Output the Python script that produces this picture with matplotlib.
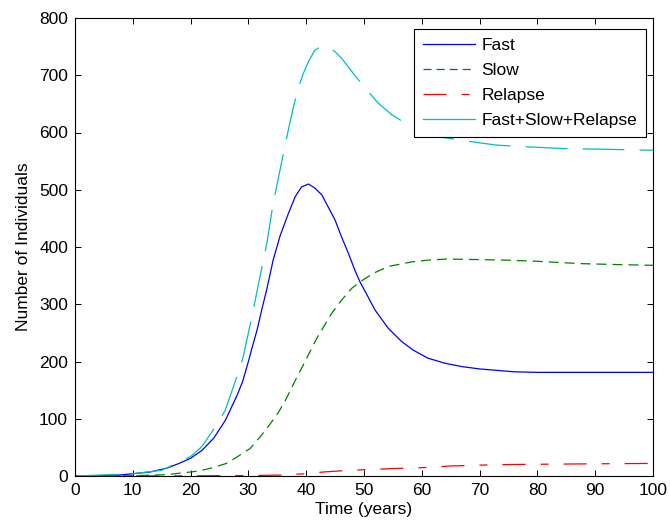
import matplotlib
matplotlib.use("Agg")
import matplotlib.pyplot as plt
from matplotlib.lines import Line2D

plt.rcParams['font.family'] = ['Liberation Sans', 'DejaVu Sans']
plt.rcParams['lines.scale_dashes'] = False

# ---- data ----
t_fast = [0, 5, 8, 10, 13, 16, 18, 20, 22, 24, 26, 28, 29, 30, 30.6, 31.5, 32.3, 33.2,
          34.3, 35.5, 36.9, 38.1, 39.2, 40.4, 41.5, 42.7, 43.8, 45, 46.1, 47.3, 48.4,
          49.3, 50.7, 51.9, 54.2, 56.5, 58.5, 61, 64, 67, 70, 76, 80, 90, 100]
fast = [0, 0.5, 2, 4, 7, 14, 22, 31, 45, 66, 97, 140, 165, 200, 223, 255, 290, 327,
        378, 420, 458, 488, 505, 510, 503, 491, 470, 447, 418, 389, 360,
        339, 313, 290, 258, 235, 220, 206, 197, 191, 187, 182, 181, 181, 181]

t_slow = [0, 10, 15, 16.4, 20, 21.6, 24, 26.2, 28, 30.3, 32, 33.4, 35, 36.3, 38.4, 39.5,
          41.8, 44.4, 46.1, 47.9, 49.3, 51.6, 54.2, 58.3, 61, 64.3, 70, 74.7, 80, 87.4,
          95, 100]
slow = [0, 0.5, 2, 3, 7, 9, 15, 22, 33, 48, 68, 86, 108, 130, 173, 194,
        240, 284, 307, 328, 339, 354, 366, 374, 377, 379, 378, 377, 375, 371,
        369, 368]

t_relapse = [0, 20, 30, 35, 40, 43, 46, 50, 55, 60, 65, 70, 75, 80, 90, 100]
relapse = [0, 0.3, 0.8, 1.5, 4, 7, 9, 11, 13, 14.5, 17.5, 19, 20, 20.5, 21.3, 22]

t_total = [0, 10, 15, 20, 22, 24.5, 26, 28.3, 29.1, 30.6, 32.3, 33.2, 34.3, 35.5, 36.3,
           36.9, 37.8, 38.6, 39.5, 40.4, 41.5, 42.7, 43.8, 45, 46.1, 48.4, 50.5, 52.5,
           54.8, 58, 62, 67.8, 72.9, 78.1, 84.4, 90, 100]
total = [0, 4, 10, 34, 52, 89, 115, 182, 208, 278, 363, 407, 477, 536, 575,
         604, 645, 677, 703, 724, 744, 751, 749, 741, 730, 700, 674, 651,
         631, 611, 594, 585, 578, 575, 572, 571, 569]

labels = ['Fast', 'Slow', 'Relapse', 'Fast+Slow+Relapse']
xticks = list(range(0, 101, 10))
yticks = list(range(0, 801, 100))

# ---- figure ----
fig = plt.figure(figsize=(6.70, 5.25), dpi=100)
ax = fig.add_axes([75/670, 1-476/525, (653-75)/670, (476-18)/525])

c_fast, c_slow, c_rel, c_tot = '#0000ff', '#008000', '#ff0000', '#00bfbf'
lw = 0.9
ax.plot(t_fast, fast, color=c_fast, lw=lw, linestyle='-')
ax.plot(t_slow, slow, color=c_slow, lw=lw, linestyle=(0, (7.2, 4.3)))
ax.plot(t_relapse, relapse, color=c_rel, lw=lw, linestyle=(0, (16.6, 10.8, 5.8, 10.8)))
ax.plot(t_total, total, color=c_tot, lw=lw, linestyle=(0, (30, 11)))

ax.set_xlim(0, 100)
ax.set_ylim(0, 800)
ax.set_xticks(xticks)
ax.set_yticks(yticks)
ax.tick_params(direction='in', length=4, width=0.7, top=True, right=True,
               labelsize=12.5, pad=5)
for s in ax.spines.values():
    s.set_linewidth(0.8)
ax.set_xlabel('Time (years)', fontsize=12.5, labelpad=3)
ax.set_ylabel('Number of Individuals', fontsize=12.5, labelpad=6)

handles = [Line2D([], [], color=c_fast, lw=lw),
           Line2D([], [], color=c_slow, lw=lw, linestyle=(0, (5.8, 3.6))),
           Line2D([], [], color=c_rel, lw=lw, linestyle=(0, (16.6, 10.8, 5.8, 10.8))),
           Line2D([], [], color=c_tot, lw=lw)]
leg = ax.legend(handles, labels, loc='upper right',
                bbox_to_anchor=(646/670, 1-29/525), bbox_transform=fig.transFigure,
                borderaxespad=0, fontsize=12.5, fancybox=False, framealpha=1,
                edgecolor='black', handlelength=3.0, handletextpad=0.4,
                labelspacing=0.58, borderpad=0.5)
leg.get_frame().set_linewidth(0.8)

fig.savefig('out.png', dpi=100)
